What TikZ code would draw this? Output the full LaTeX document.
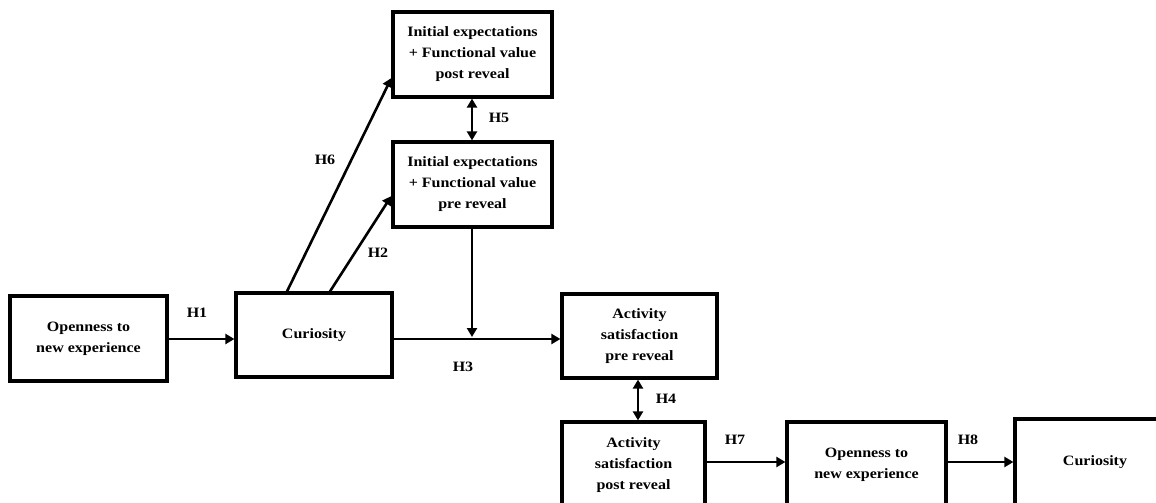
\documentclass[tikz,border=0pt]{standalone}
\usepackage{fontspec}
\setmainfont{Liberation Serif}[FakeStretch=1.12]
\usetikzlibrary{arrows.meta}
\begin{document}
\begin{tikzpicture}[x=1pt,y=-1pt,
  box/.style={draw, line width=3.2pt, align=center, inner sep=0pt,
    font=\fontsize{14.3}{21}\selectfont\bfseries},
  conn/.style={line width=2.6pt, -{Triangle[length=9pt,width=10pt]}},
  bconn/.style={line width=2.6pt, {Triangle[length=9pt,width=10pt]}-{Triangle[length=9pt,width=10pt]}},
  lab/.style={font=\fontsize{14.3}{16}\selectfont\bfseries}]
\useasboundingbox (0,0) rectangle (1156,503);
\node[box, minimum width=157pt, minimum height=85pt] (A) at (88.5,338.5) {Openness to\\new experience};
\node[box, minimum width=156pt, minimum height=84pt] (B) at (314,335) {Curiosity};
\node[box, minimum width=159pt, minimum height=85pt] (C) at (472.5,54.5) {Initial expectations\\+ Functional value\\post reveal};
\node[box, minimum width=159pt, minimum height=85pt] (D) at (472.5,184.5) {Initial expectations\\+ Functional value\\pre reveal};
\node[box, minimum width=155pt, minimum height=84pt] (E) at (639.5,336) {Activity\\satisfaction\\pre reveal};
\node[box, minimum width=143pt, minimum height=86pt] (F) at (633.5,465) {Activity\\satisfaction\\post reveal};
\node[box, minimum width=159pt, minimum height=86pt] (G) at (866.5,465) {Openness to\\new experience};
\node[box, minimum width=160pt, minimum height=86pt] (H) at (1095,462) {Curiosity};
\coordinate (J) at (472,337);
\draw[conn] (A.east |- 0,339) -- (B.west |- 0,339);
\draw[conn] (B.east |- 0,339) -- (E.west |- 0,339);
\draw[conn] (D.south -| J) -- (J);
\draw[conn] (B.north -| 287,0) -- (C.west |- 0,78);
\draw[conn] (B.north -| 330,0) -- (D.west |- 0,196);
\draw[bconn] (C.south -| 472,0) -- (D.north -| 472,0);
\draw[bconn] (E.south -| 638,0) -- (F.north -| 638,0);
\draw[conn] (F.east |- 0,462) -- (G.west |- 0,462);
\draw[conn] (G.east |- 0,462) -- (H.west |- 0,462);
\node[lab] (h1) at (197,313) {H1};
\node[lab] (h2) at (378,253) {H2};
\node[lab] (h3) at (463,367) {H3};
\node[lab] (h4) at (666,399) {H4};
\node[lab] (h5) at (499,118) {H5};
\node[lab] (h6) at (325,160) {H6};
\node[lab] (h7) at (735,440) {H7};
\node[lab] (h8) at (968,440) {H8};
\end{tikzpicture}
\end{document}
